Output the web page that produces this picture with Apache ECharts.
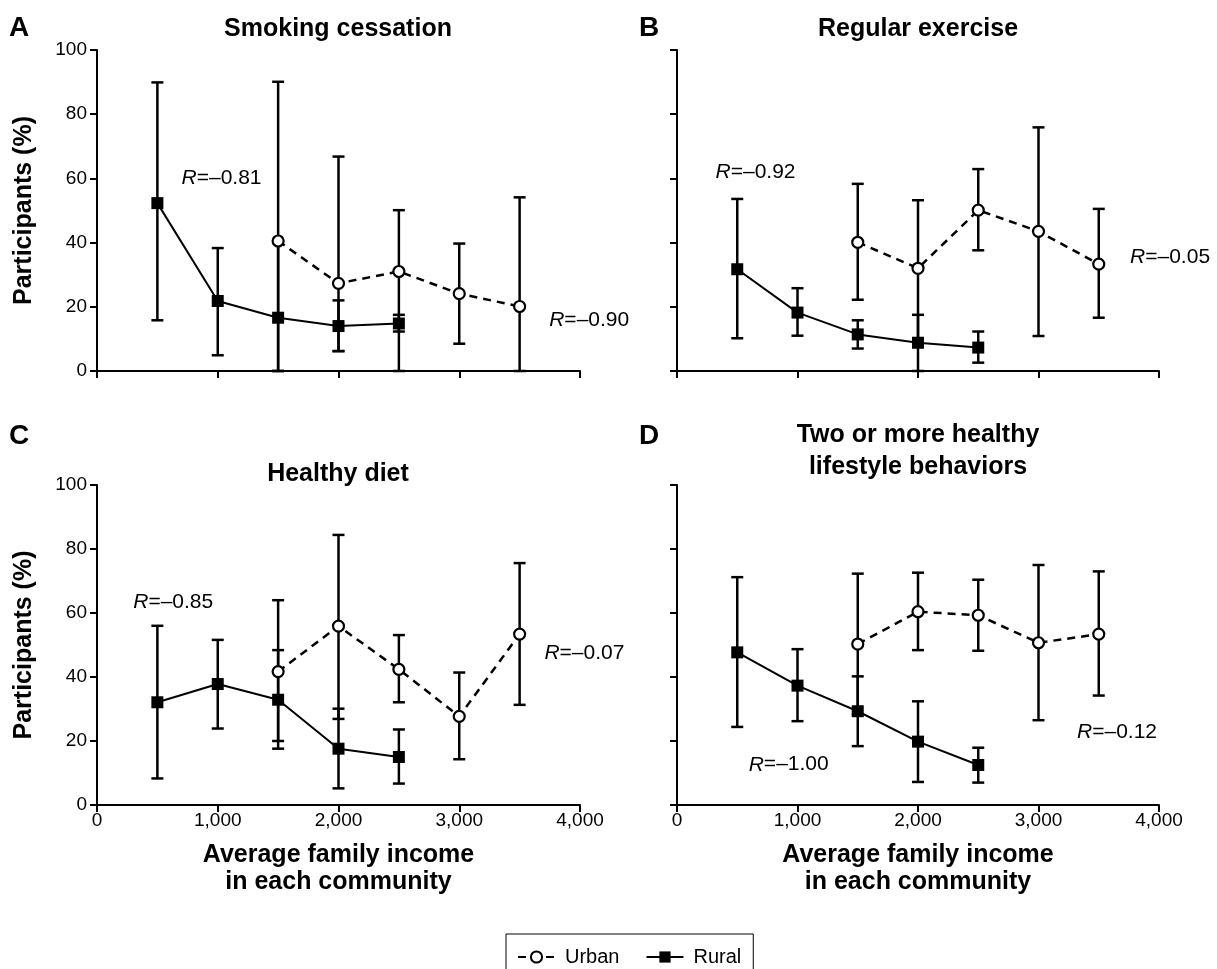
<!DOCTYPE html>
<html>
<head>
<meta charset="utf-8">
<script src="https://cdn.jsdelivr.net/npm/echarts@6/dist/echarts.min.js"></script>
<style>
html,body{margin:0;padding:0;background:#fff;}
#c{width:1217px;height:969px;}
</style>
</head>
<body>
<div id="c"></div>
<script>
// ---- data ----
const xUrban = [1500, 2000, 2500, 3000, 3500];
const xRural = [500, 1000, 1500, 2000, 2500];
const xTicks = [0, 1000, 2000, 3000, 4000];
const yTicks = [0, 20, 40, 60, 80, 100];

const panelTitles = ['Smoking cessation', 'Regular exercise', 'Healthy diet', 'Two or more healthy\nlifestyle behaviors'];
const panelLetters = ['A', 'B', 'C', 'D'];

// Panel A – Smoking cessation
const urbanA = [40.5, 27.3, 31.0, 24.1, 20.1];
const urbanALow = [0, 6.2, 0, 8.5, 0];
const urbanAHigh = [90.1, 66.8, 50.1, 39.7, 54.1];
const ruralA = [52.3, 21.8, 16.6, 14.0, 14.8];
const ruralALow = [15.8, 4.9, 0, 6.2, 12.3];
const ruralAHigh = [89.9, 38.3, 40.5, 22.0, 17.5];

// Panel B – Regular exercise
const urbanB = [40.1, 32.0, 50.1, 43.5, 33.3];
const urbanBLow = [22.2, 9.0, 37.6, 10.9, 16.6];
const urbanBHigh = [58.3, 53.2, 62.9, 75.9, 50.5];
const ruralB = [31.7, 18.2, 11.4, 8.8, 7.3];
const ruralBLow = [10.2, 11.0, 7.0, 0, 2.6];
const ruralBHigh = [53.6, 25.8, 15.8, 17.5, 12.3];

// Panel C – Healthy diet
const urbanC = [41.7, 55.9, 42.4, 27.7, 53.4];
const urbanCLow = [20.0, 26.9, 32.1, 14.3, 31.3];
const urbanCHigh = [64.0, 84.4, 53.1, 41.4, 75.6];
const ruralC = [32.1, 37.8, 32.9, 17.6, 15.0];
const ruralCLow = [8.3, 23.9, 17.6, 5.2, 6.7];
const ruralCHigh = [56.0, 51.6, 48.4, 30.1, 23.6];

// Panel D – Two or more healthy lifestyle behaviors
const urbanD = [50.3, 60.4, 59.3, 50.7, 53.4];
const urbanDLow = [28.3, 48.4, 48.2, 26.5, 34.2];
const urbanDHigh = [72.3, 72.6, 70.4, 75.0, 73.0];
const ruralD = [47.7, 37.3, 29.3, 19.8, 12.5];
const ruralDLow = [24.4, 26.2, 18.4, 7.2, 7.0];
const ruralDHigh = [71.2, 48.7, 40.2, 32.4, 17.9];

// Correlation annotations: [x, y, text]
const annotA = [[700, 60.0, '\u20130.81'], [3745, 15.8, '\u20130.90']];
const annotB = [[320, 62.0, '\u20130.92'], [3760, 35.6, '\u20130.05']];
const annotC = [[300, 63.5, '\u20130.85'], [3705, 47.5, '\u20130.07']];
const annotD = [[595, 12.6, '\u20131.00'], [3320, 22.9, '\u20130.12']];

// ---- chart ----
const FONT = 'Liberation Sans, Arial, Helvetica, sans-serif';
const chart = echarts.init(document.getElementById('c'), null, {renderer: 'canvas'});

const panels = [
  {u: urbanA, uL: urbanALow, uH: urbanAHigh, r: ruralA, rL: ruralALow, rH: ruralAHigh, an: annotA},
  {u: urbanB, uL: urbanBLow, uH: urbanBHigh, r: ruralB, rL: ruralBLow, rH: ruralBHigh, an: annotB},
  {u: urbanC, uL: urbanCLow, uH: urbanCHigh, r: ruralC, rL: ruralCLow, rH: ruralCHigh, an: annotC},
  {u: urbanD, uL: urbanDLow, uH: urbanDHigh, r: ruralD, rL: ruralDLow, rH: ruralDHigh, an: annotD}
];

const grids = [
  {left: 97, top: 50, width: 483, height: 321},
  {left: 677, top: 50, width: 482, height: 321},
  {left: 97, top: 485, width: 483, height: 320},
  {left: 677, top: 485, width: 482, height: 320}
];

const axisLine = {show: true, lineStyle: {color: '#000', width: 2}};
const axisTick = {show: true, inside: false, length: 7, lineStyle: {color: '#000', width: 2}};

const xAxes = grids.map((g, i) => ({
  type: 'value', gridIndex: i, min: xTicks[0], max: xTicks[xTicks.length - 1],
  interval: xTicks[1] - xTicks[0],
  axisLine, axisTick, splitLine: {show: false},
  axisLabel: {show: i >= 2, color: '#000', fontSize: 19, fontFamily: FONT, margin: 6,
    formatter: v => v.toLocaleString('en-US')},
  name: i >= 2 ? 'Average family income\nin each community' : '',
  nameLocation: 'middle', nameGap: 37,
  nameTextStyle: {color: '#000', fontSize: 25, fontWeight: 'bold', fontFamily: FONT, lineHeight: 27, verticalAlign: 'top'}
}));

const yAxes = grids.map((g, i) => ({
  type: 'value', gridIndex: i, min: yTicks[0], max: yTicks[yTicks.length - 1],
  interval: yTicks[1] - yTicks[0],
  axisLine, axisTick, splitLine: {show: false},
  axisLabel: {show: i % 2 === 0, color: '#000', fontSize: 19, fontFamily: FONT, margin: 10},
  name: i % 2 === 0 ? 'Participants (%)' : '',
  nameLocation: 'middle', nameGap: 60,
  nameTextStyle: {color: '#000', fontSize: 25, fontWeight: 'bold', fontFamily: FONT}
}));

function errItem(params, api) {
  const x = api.value(0), lo = api.value(1), hi = api.value(2);
  const p1 = api.coord([x, lo]);
  const p2 = api.coord([x, hi]);
  const w = 6;
  const style = {stroke: '#000', lineWidth: 2.5};
  return {
    type: 'group',
    children: [
      {type: 'line', shape: {x1: p1[0], y1: p1[1], x2: p2[0], y2: p2[1]}, style},
      {type: 'line', shape: {x1: p1[0] - w, y1: p1[1], x2: p1[0] + w, y2: p1[1]}, style},
      {type: 'line', shape: {x1: p2[0] - w, y1: p2[1], x2: p2[0] + w, y2: p2[1]}, style}
    ]
  };
}

const series = [];
panels.forEach((p, i) => {
  series.push({
    type: 'custom', xAxisIndex: i, yAxisIndex: i, z: 1, silent: true,
    renderItem: errItem, encode: {x: 0, y: [1, 2]},
    data: xRural.map((x, k) => [x, p.rL[k], p.rH[k]])
  });
  series.push({
    type: 'custom', xAxisIndex: i, yAxisIndex: i, z: 1, silent: true,
    renderItem: errItem, encode: {x: 0, y: [1, 2]},
    data: xUrban.map((x, k) => [x, p.uL[k], p.uH[k]])
  });
  series.push({
    name: 'Rural', type: 'line', xAxisIndex: i, yAxisIndex: i, z: 3,
    data: xRural.map((x, k) => [x, p.r[k]]),
    symbol: 'rect', symbolSize: 12,
    lineStyle: {color: '#000', width: 2, type: 'solid'},
    itemStyle: {color: '#000', borderColor: '#000', borderWidth: 0},
    animation: false
  });
  series.push({
    name: 'Urban', type: 'line', xAxisIndex: i, yAxisIndex: i, z: 4,
    data: xUrban.map((x, k) => [x, p.u[k]]),
    symbol: 'circle', symbolSize: 11,
    lineStyle: {color: '#000', width: 2.5, type: [8, 6]},
    itemStyle: {color: '#fff', borderColor: '#000', borderWidth: 2.2},
    animation: false
  });
  series.push({
    type: 'scatter', xAxisIndex: i, yAxisIndex: i, silent: true, symbolSize: 0,
    itemStyle: {opacity: 1, color: '#000'},
    data: p.an,
    label: {
      show: true, position: 'right', distance: 0,
      formatter: d => '{i|R}=' + d.value[2],
      color: '#000', fontSize: 21, fontFamily: FONT, opacity: 1,
      rich: {i: {fontStyle: 'italic', fontSize: 21, fontFamily: FONT, color: '#000'}}
    }
  });
});

const titleCenters = [338, 918, 338, 918];
const titleTops = [29, 29, 474, 451];
const graphic = [];
panelTitles.forEach((t, i) => {
  graphic.push({
    type: 'text', x: titleCenters[i], y: titleTops[i],
    style: {text: t, textAlign: 'center', textVerticalAlign: 'middle', fill: '#000',
      font: 'bold 25px ' + FONT, lineHeight: 32}
  });
});
const letterX = [9, 639, 9, 639];
const letterY = [28, 28, 436, 436];
panelLetters.forEach((t, i) => {
  graphic.push({
    type: 'text', x: letterX[i], y: letterY[i],
    style: {text: t, textAlign: 'left', textVerticalAlign: 'middle', fill: '#000',
      font: 'bold 28px ' + FONT}
  });
});

chart.setOption({
  animation: false,
  backgroundColor: '#fff',
  grid: grids,
  xAxis: xAxes,
  yAxis: yAxes,
  series,
  graphic,
  legend: {
    data: ['Urban', 'Rural'],
    left: 506, top: 934,
    orient: 'horizontal',
    itemWidth: 37, itemHeight: 14, itemGap: 26,
    padding: [13, 12, 12, 11],
    borderColor: '#000', borderWidth: 1,
    textStyle: {color: '#000', fontSize: 20, fontFamily: FONT, padding: [0, 0, 0, 5]},
    selectedMode: false
  }
});
</script>
</body>
</html>
